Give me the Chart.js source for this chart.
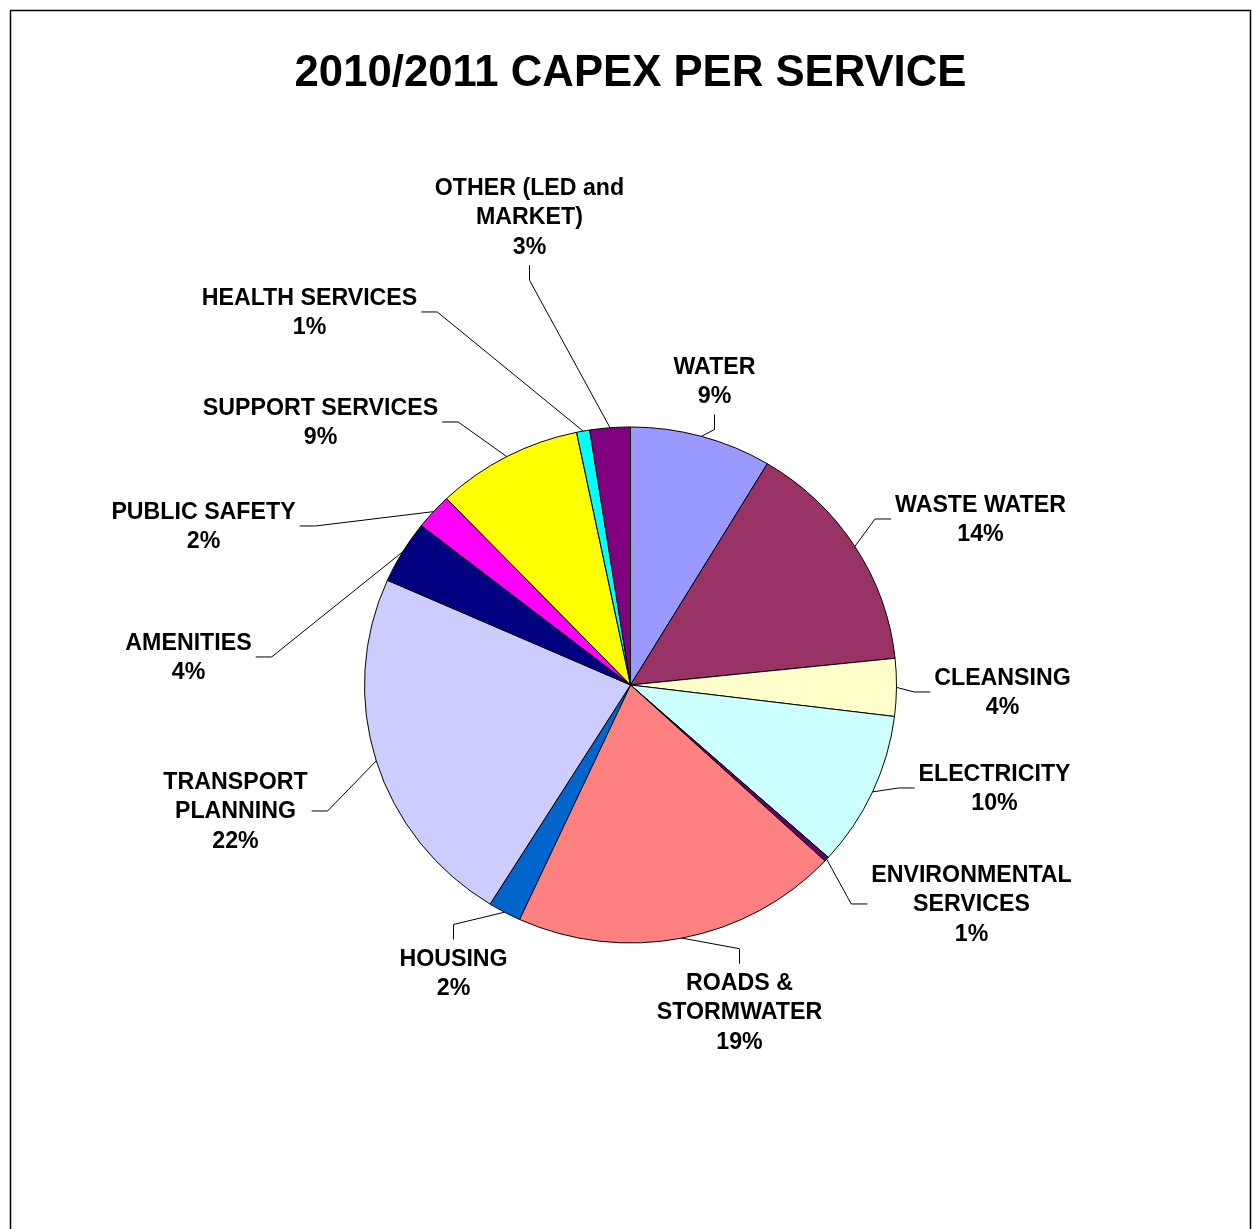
<!DOCTYPE html>
<html>
<head>
<meta charset="utf-8">
<title>2010/2011 CAPEX PER SERVICE</title>
<script src="https://cdn.jsdelivr.net/npm/chart.js@4.4.1/dist/chart.umd.min.js"></script>
<style>
  html, body { margin: 0; padding: 0; background: #fff; }
  canvas { display: block; }
</style>
</head>
<body>
<canvas id="capexChart" width="1253" height="1229"></canvas>
<script>
// --- data (clockwise from 12 o'clock) ---
const services = [
    'WATER', 'WASTE WATER', 'CLEANSING', 'ELECTRICITY',
    ['ENVIRONMENTAL', 'SERVICES'], ['ROADS &', 'STORMWATER'], 'HOUSING',
    ['TRANSPORT', 'PLANNING'], 'AMENITIES', 'PUBLIC SAFETY',
    'SUPPORT SERVICES', 'HEALTH SERVICES', ['OTHER (LED and', 'MARKET)']
];
const capexShare = [8.6, 14.75, 3.6, 9.7, 0.3, 19.9, 2.0, 22.8, 3.95, 2.25, 8.9, 0.8, 2.45];
const pctLabels = ['9%', '14%', '4%', '10%', '1%', '19%', '2%', '22%', '4%', '2%', '9%', '1%', '3%'];

const sliceColors = [
    '#9999FF', '#993366', '#FFFFCC', '#CCFFFF', '#660066', '#FF8080', '#0066CC',
    '#CCCCFF', '#000080', '#FF00FF', '#FFFF00', '#00FFFF', '#800080'
];

// label block centre relative to pie centre, and which side the leader leaves from
const labelOffsets = [
    [84, -304], [350, -166], [372, 7], [364, 103], [341, 219], [109, 327], [-177, 288],
    [-395, 126], [-442, -28], [-427, -159], [-310, -263], [-321, -373], [-101, -468]
];
const labelSides = [
    'above', 'right', 'right', 'right', 'right', 'below', 'below',
    'left', 'left', 'left', 'left', 'left', 'above'
];

const FONT = '"Liberation Sans", Arial, Helvetica, sans-serif';
const LINE_H = 29.5;
const squash = 258 / 266; // the original pie is slightly wider than tall

const framePlugin = {
    id: 'frame',
    beforeDraw(chart) {
        const ctx = chart.ctx;
        ctx.save();
        ctx.fillStyle = '#fff';
        ctx.fillRect(0, 0, chart.width, chart.height);
        ctx.strokeStyle = '#000';
        ctx.lineWidth = 1.5;
        ctx.strokeRect(10.5, 10.5, 1240, 1300);
        ctx.restore();
    }
};

const sliceLabels = {
    id: 'sliceLabels',
    beforeDatasetsDraw(chart) {
        const arc = chart.getDatasetMeta(0).data[0];
        const ctx = chart.ctx;
        ctx.save();
        ctx.translate(arc.x, arc.y);
        ctx.scale(1, squash);
        ctx.translate(-arc.x, -arc.y);
    },
    afterDatasetsDraw(chart) {
        const ctx = chart.ctx;
        ctx.restore();

        const meta = chart.getDatasetMeta(0);
        ctx.save();
        ctx.font = 'bold 23.2px ' + FONT;
        ctx.fillStyle = '#000';
        ctx.strokeStyle = '#000';
        ctx.lineWidth = 1;
        ctx.textAlign = 'center';
        ctx.textBaseline = 'middle';

        meta.data.forEach((arc, i) => {
            const mid = (arc.startAngle + arc.endAngle) / 2;
            const R = arc.outerRadius;
            const rim = { x: arc.x + R * Math.cos(mid), y: arc.y + R * Math.sin(mid) * squash };

            const name = services[i];
            const lines = (Array.isArray(name) ? name : [name]).concat(pctLabels[i]);
            const w = Math.max(...lines.map(l => ctx.measureText(l).width));
            const h = lines.length * LINE_H;
            const bx = arc.x + labelOffsets[i][0];
            const by = arc.y + labelOffsets[i][1];

            let a, s;
            switch (labelSides[i]) {
                case 'left':
                    a = { x: bx + w / 2 + 4, y: by };
                    s = { x: a.x + 16, y: by };
                    break;
                case 'right':
                    a = { x: bx - w / 2 - 4, y: by };
                    s = { x: a.x - 16, y: by };
                    break;
                case 'above':
                    a = { x: bx, y: by + h / 2 + 4 };
                    s = { x: bx, y: a.y + 15 };
                    break;
                default:
                    a = { x: bx, y: by - h / 2 - 4 };
                    s = { x: bx, y: a.y - 15 };
            }
            ctx.beginPath();
            ctx.moveTo(a.x, a.y);
            ctx.lineTo(s.x, s.y);
            ctx.lineTo(rim.x, rim.y);
            ctx.stroke();

            lines.forEach((line, k) => {
                ctx.fillText(line, bx, by - h / 2 + LINE_H * (k + 0.5) + 1);
            });
        });
        ctx.restore();
    }
};

new Chart(document.getElementById('capexChart'), {
    type: 'pie',
    data: {
        labels: services,
        datasets: [{
            data: capexShare,
            backgroundColor: sliceColors,
            borderColor: '#000',
            borderWidth: 1,
            radius: 266
        }]
    },
    options: {
        responsive: false,
        animation: false,
        devicePixelRatio: 1,
        layout: {
            // chart area centred on x = 630.5 so the title box stays wide enough
            padding: { left: 8, right: 0, top: 0, bottom: 278 }
        },
        plugins: {
            legend: { display: false },
            tooltip: { enabled: false },
            title: {
                display: true,
                text: '2010/2011 CAPEX PER SERVICE',
                color: '#000',
                font: { family: FONT, size: 43.7, weight: 'bold', lineHeight: 1.2 },
                padding: { top: 47.5, bottom: 319 }
            }
        }
    },
    plugins: [framePlugin, sliceLabels]
});
</script>
</body>
</html>
